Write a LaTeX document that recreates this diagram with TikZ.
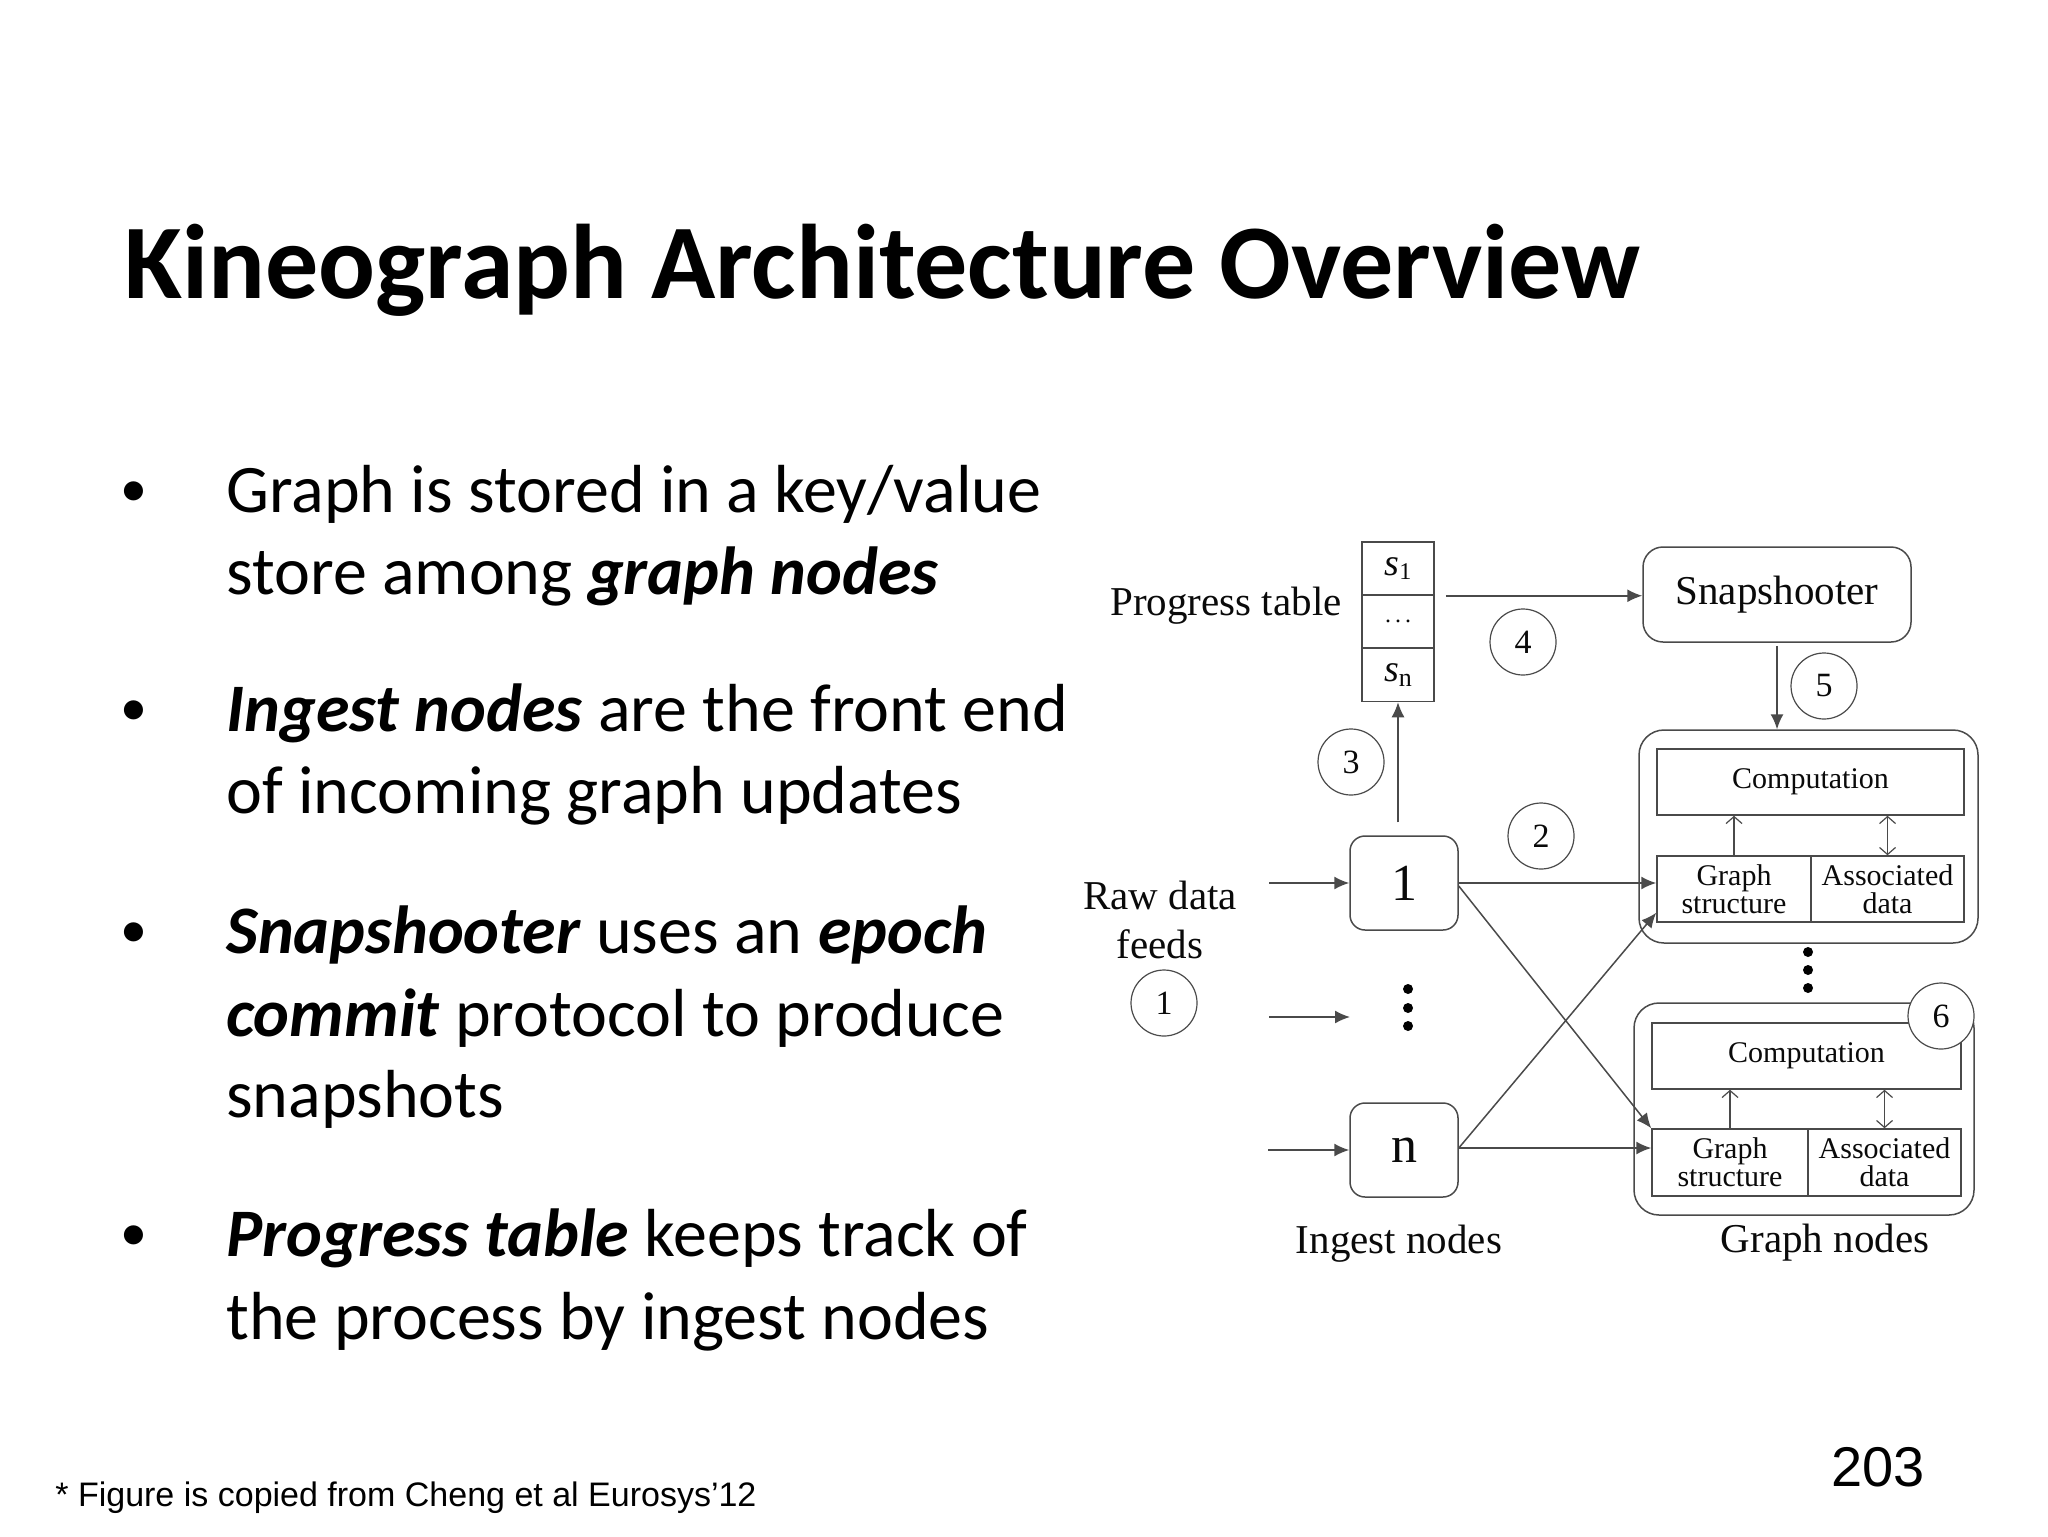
\documentclass[tikz,border=0pt]{standalone}
\usepackage{fontspec}
\setmainfont{Carlito}
\newfontfamily\timesf{Liberation Serif}
\newfontfamily\arialf{Liberation Sans}
\usetikzlibrary{arrows.meta}
\definecolor{lc}{HTML}{4A4A4A}
\definecolor{tc}{HTML}{0A0A0A}
\tikzset{
  ln/.style={draw=lc, line width=0.75pt},
  arr/.style={ln, -{Latex[length=7.5pt,width=6.5pt]}},
  oarr/.style={draw=lc, line width=0.6pt, -{Straight Barb[length=3.5pt,width=8pt]}},
  darr/.style={draw=lc, line width=0.6pt, {Straight Barb[length=3.5pt,width=8pt]}-{Straight Barb[length=3.5pt,width=8pt]}},
  dlab/.style={text=tc, font=\timesf\fontsize{20.5pt}{24pt}\selectfont, inner sep=0},
  cnum/.style={circle, draw=lc, line width=0.6pt, fill=white, minimum size=33pt, inner sep=0, text=tc, font=\timesf\fontsize{17pt}{17pt}\selectfont},
  rbox/.style={rectangle, draw=lc, line width=0.75pt, rounded corners=7.5pt, inner sep=0, text=tc},
  sbox/.style={rectangle, draw=lc, line width=0.75pt, inner sep=0, text=tc},
  small/.style={font=\timesf\fontsize{15pt}{14pt}\selectfont, align=center},
  btext/.style={anchor=base west, inner sep=0, font=\fontsize{34pt}{41pt}\selectfont},
  bdot/.style={anchor=base, inner sep=0, font=\fontsize{27pt}{41pt}\selectfont},
  cell/.style={sbox, minimum width=36pt, minimum height=26.5pt},
}
\begin{document}
\begin{tikzpicture}[x=0.5pt,y=-0.5pt]
\useasboundingbox (0,0) rectangle (2048,1536);
\fill[white] (0,0) rectangle (2048,1536);

% ---------- slide text ----------
\node[anchor=base west, inner sep=0, font=\bfseries\fontsize{53pt}{60pt}\selectfont] (title) at (124,298) {Kineograph Architecture Overview};

\node[bdot] (d1) at (134,506) {•};
\node[btext] (b1a) at (226,512) {Graph is stored in a key/value};
\node[btext] (b1b) at (226,594) {store among \textbf{\textit{graph nodes}}};
\node[bdot] (d2) at (134,725) {•};
\node[btext] (b2a) at (226,731) {\textbf{\textit{Ingest nodes}} are the front end};
\node[btext] (b2b) at (226,813) {of incoming graph updates};
\node[bdot] (d3) at (134,947) {•};
\node[btext] (b3a) at (226,953) {\textbf{\textit{Snapshooter}} uses an \textbf{\textit{epoch}}};
\node[btext] (b3b) at (226,1036) {\textbf{\textit{commit}} protocol to produce};
\node[btext] (b3c) at (226,1117) {snapshots};
\node[bdot] (d4) at (134,1250) {•};
\node[btext] (b4a) at (226,1256) {\textbf{\textit{Progress table}} keeps track of};
\node[btext] (b4b) at (226,1339) {the process by ingest nodes};

\node[anchor=base west, inner sep=0, font=\arialf\fontsize{17pt}{20pt}\selectfont] (fn) at (55,1506) {* Figure is copied from Cheng et al Eurosys’12};
\node[anchor=base west, inner sep=0, font=\arialf\fontsize{28pt}{30pt}\selectfont] (pg) at (1831,1486) {203};

% ---------- diagram ----------
% progress table
\node[cell] (s1) at (1398,568.5) {{\timesf\fontsize{19pt}{19pt}\selectfont\itshape s}{\timesf\fontsize{12pt}{12pt}\selectfont\raisebox{-0.35ex}{1}}};
\node[cell] (sd) at (1398,621.5) {{\timesf\fontsize{12pt}{12pt}\selectfont .\,.\,.}};
\node[cell] (sn) at (1398,675) {{\timesf\fontsize{19pt}{19pt}\selectfont\itshape s}{\timesf\fontsize{13pt}{13pt}\selectfont\raisebox{-0.35ex}{n}}};
\node[dlab, anchor=base east] (ptl) at (1342,615) {Progress table};

% snapshooter
\node[rbox, rounded corners=10pt, minimum width=134pt, minimum height=47.5pt, font=\timesf\fontsize{20.5pt}{24pt}\selectfont] (snap) at (1777,594.5) {Snapshooter};

% ingest nodes
\node[rbox, minimum width=54pt, minimum height=47pt, font=\timesf\fontsize{26pt}{26pt}\selectfont] (ing1) at (1404,883) {1};
\node[rbox, minimum width=54pt, minimum height=47pt, font=\timesf\fontsize{26pt}{26pt}\selectfont] (ingn) at (1404,1150) {n};
\fill (1408,989) circle (5);
\fill (1408,1008) circle (5);
\fill (1408,1026) circle (5);
\node[dlab, anchor=base] (ingl) at (1399,1253) {Ingest nodes};

% raw data feeds
\node[dlab, anchor=base] (raw1) at (1160,909) {Raw data};
\node[dlab, anchor=base] (raw2) at (1160,958) {feeds};
\node[cnum] (c1) at (1164,1003) {1};
\coordinate (f1) at (1269,883);
\coordinate (f2) at (1269,1017);
\coordinate (f2e) at (1350,1017);
\coordinate (f3) at (1268,1150);
\draw[arr] (f1) -- (ing1.west);
\draw[arr] (f2) -- (f2e);
\draw[arr] (f3) -- (ingn.west);

% graph node 1
\node[rbox, rounded corners=12.5pt, minimum width=169.5pt, minimum height=106.5pt] (gn1) at (1808.5,836.5) {};
\node[sbox, minimum width=153.5pt, minimum height=33pt, small] (comp1) at (1810.5,782) {Computation};
\node[sbox, minimum width=77pt, minimum height=33pt, small] (gs1) at (1734,889) {Graph\\structure};
\node[sbox, minimum width=76.5pt, minimum height=33pt, small] (ad1) at (1887.5,889) {Associated\\data};
\draw[oarr] (gs1.north) -- (gs1.north |- comp1.south);
\draw[darr] (ad1.north) -- (ad1.north |- comp1.south);

% dots between graph nodes
\fill (1808,952) circle (5);
\fill (1808,970) circle (5);
\fill (1808,988) circle (5);

% graph node 2
\node[rbox, rounded corners=12.5pt, minimum width=170pt, minimum height=106pt] (gn2) at (1804,1109) {};
\node[sbox, minimum width=154.5pt, minimum height=33pt, small] (comp2) at (1806.5,1056) {Computation};
\node[sbox, minimum width=78pt, minimum height=33.5pt, small] (gs2) at (1730,1162.5) {Graph\\structure};
\node[sbox, minimum width=76.5pt, minimum height=33.5pt, small] (ad2) at (1884.5,1162.5) {Associated\\data};
\draw[oarr] (gs2.north) -- (gs2.north |- comp2.south);
\draw[darr] (ad2.north) -- (ad2.north |- comp2.south);
\node[cnum] (c6) at (1941,1016) {6};
\node[dlab, anchor=base] (gnl) at (1825,1252) {Graph nodes};

% connectors
\draw[arr, shorten <=6.5pt] (sn.south |- ing1.north) -- (sn.south);
\draw[arr, shorten <=5.5pt] (s1.south east) -- (s1.south east -| snap.west);
\draw[arr, shorten <=1.5pt] (snap.south) -- (snap.south |- gn1.north);
\draw[arr] (ing1.east) -- (ing1.east -| gs1.west);
\draw[arr] ([yshift=-1.5pt]ing1.east) -- (gs2.north west);
\draw[arr] ([yshift=1pt]ingn.east) -- ([yshift=5pt]gs1.south west);
\draw[arr] ([yshift=1pt]ingn.east) -- ([yshift=1pt]ingn.east -| gs2.west);

% step numbers
\node[cnum] (c2) at (1541,836) {2};
\node[cnum] (c3) at (1351,762) {3};
\node[cnum] (c4) at (1523,642) {4};
\node[cnum] (c5) at (1824,686) {5};
\end{tikzpicture}
\end{document}
